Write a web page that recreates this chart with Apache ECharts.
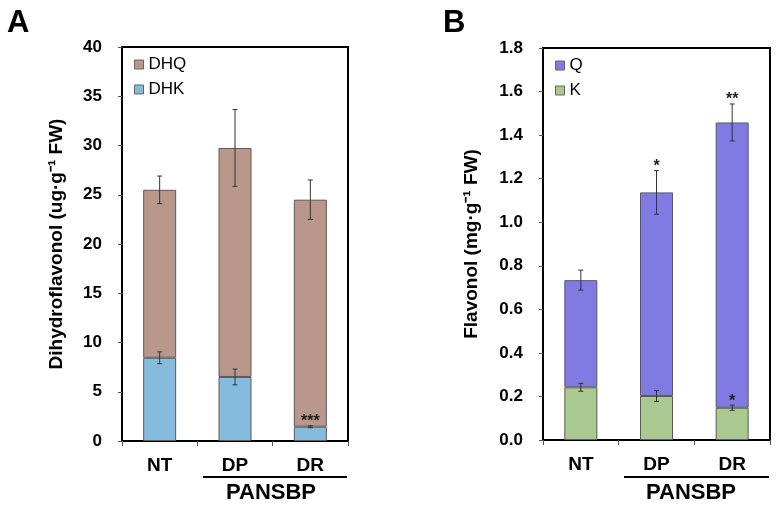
<!DOCTYPE html>
<html>
<head>
<meta charset="utf-8">
<script src="https://cdn.jsdelivr.net/npm/echarts@6/dist/echarts.min.js"></script>
<style>html,body{margin:0;padding:0;background:#fff}#c{width:778px;height:511px}</style>
</head>
<body>
<div id="c"></div>
<script>
const categories = ['NT', 'DP', 'DR'];
// Panel A (ug/g FW)
const dhk = [8.45, 6.5, 1.45];
const dhkErr = [0.6, 0.8, 0.1];
const dhq = [17.05, 23.25, 23.05];
const totalErrA = [1.4, 3.9, 2.0];
const sigA = ['', '', '***'];      // on DHK
const sigAtop = ['', '', ''];      // on total
// Panel B (mg/g FW)
const kVals = [0.242, 0.202, 0.148];
const kErr = [0.018, 0.025, 0.012];
const qVals = [0.492, 0.935, 1.31];
const totalErrB = [0.046, 0.1, 0.085];
const sigK = ['', '', '*'];
const sigBtop = ['', '*', '**'];
const yTicksA = {min: 0, max: 40, interval: 5};
const yTicksB = {min: 0, max: 1.8, interval: 0.2};

const FONT = '"Liberation Sans", Arial, sans-serif';
const C_DHQ = '#B9978A', C_DHK = '#85BCDD', C_Q = '#807AE2', C_K = '#AAC990';

function errData(base, err) {
  return categories.map((c, i) => [i, base[i] + err[i], base[i] - err[i]]);
}
function sum(a, b) { return a.map((v, i) => v + b[i]); }

function errSeries(xi, data) {
  return {
    type: 'custom', xAxisIndex: xi, yAxisIndex: xi, z: 10, silent: true,
    data: data,
    renderItem: function (params, api) {
      const x = api.coord([api.value(0), api.value(1)])[0];
      const yt = api.coord([api.value(0), api.value(1)])[1];
      const yb = api.coord([api.value(0), api.value(2)])[1];
      const s = {stroke: '#333', lineWidth: 1};
      return {type: 'group', children: [
        {type: 'line', shape: {x1: x, y1: yt, x2: x, y2: yb}, style: s},
        {type: 'line', shape: {x1: x - 2.5, y1: yt, x2: x + 2.5, y2: yt}, style: s},
        {type: 'line', shape: {x1: x - 2.5, y1: yb, x2: x + 2.5, y2: yb}, style: s}
      ]};
    }
  };
}
function sigSeries(xi, tops, labels) {
  return {
    type: 'custom', xAxisIndex: xi, yAxisIndex: xi, z: 11, silent: true,
    data: categories.map((c, i) => [i, tops[i], labels[i]]),
    renderItem: function (params, api) {
      const i = params.dataIndex;
      const p = api.coord([api.value(0), api.value(1)]);
      return {type: 'text', style: {text: labels[i], x: p[0], y: p[1] + 4,
        textAlign: 'center', textVerticalAlign: 'bottom',
        font: 'bold 16px ' + FONT, fill: '#222'}};
    }
  };
}

const totA = sum(dhk, dhq), totB = sum(kVals, qVals);

const axisCommonX = (gi) => ({
  type: 'category', gridIndex: gi, data: categories,
  axisLine: {lineStyle: {color: '#000', width: 2}},
  axisTick: {show: true, length: 5, lineStyle: {color: '#555', width: 1}},
  axisLabel: {color: '#000', fontFamily: FONT, fontWeight: 'bold', fontSize: 19, margin: 15}
});
const axisCommonY = (gi, t, name, gap) => ({
  type: 'value', gridIndex: gi, min: t.min, max: t.max, interval: t.interval,
  name: name, nameLocation: 'middle', nameGap: gap, nameRotate: 90,
  nameTextStyle: {color: '#000', fontFamily: FONT, fontWeight: 'bold', fontSize: 19},
  splitLine: {show: false},
  axisLine: {show: true, lineStyle: {color: '#000', width: 2}},
  axisTick: {show: true, length: 4, lineStyle: {color: '#555', width: 1}},
  axisLabel: {color: '#000', fontFamily: FONT, fontWeight: 'bold', fontSize: 17, margin: 20,
    formatter: t.interval < 1 ? (v => v.toFixed(1)) : (v => String(v))}
});

const barStyle = (c) => ({color: c, borderColor: '#5a5a5a', borderWidth: 1});

const option = {
  animation: false,
  textStyle: {fontFamily: FONT},
  grid: [
    {left: 122, top: 47, width: 226, height: 394, show: true, borderColor: '#000', borderWidth: 2, backgroundColor: 'transparent'},
    {left: 543, top: 48, width: 227, height: 392, show: true, borderColor: '#000', borderWidth: 2, backgroundColor: 'transparent'}
  ],
  xAxis: [axisCommonX(0), axisCommonX(1)],
  yAxis: [
    axisCommonY(0, yTicksA, 'Dihydroflavonol (ug·g⁻¹ FW)', 56),
    axisCommonY(1, yTicksB, 'Flavonol (mg·g⁻¹ FW)', 62)
  ],
  legend: [
    {data: ['DHQ', 'DHK'], orient: 'vertical', left: 129, top: 51, itemWidth: 9, itemHeight: 9, itemGap: 8, icon: 'rect',
     textStyle: {color: '#000', fontFamily: FONT, fontSize: 17}, itemStyle: {borderColor: '#666', borderWidth: 1}},
    {data: ['Q', 'K'], orient: 'vertical', left: 550, top: 52, itemWidth: 9, itemHeight: 9, itemGap: 8, icon: 'rect',
     textStyle: {color: '#000', fontFamily: FONT, fontSize: 17}, itemStyle: {borderColor: '#666', borderWidth: 1}}
  ],
  series: [
    {name: 'DHK', type: 'bar', stack: 'a', xAxisIndex: 0, yAxisIndex: 0, barWidth: 33, data: dhk, itemStyle: barStyle(C_DHK)},
    {name: 'DHQ', type: 'bar', stack: 'a', xAxisIndex: 0, yAxisIndex: 0, barWidth: 33, data: dhq, itemStyle: barStyle(C_DHQ)},
    {name: 'K', type: 'bar', stack: 'b', xAxisIndex: 1, yAxisIndex: 1, barWidth: 33, data: kVals, itemStyle: barStyle(C_K)},
    {name: 'Q', type: 'bar', stack: 'b', xAxisIndex: 1, yAxisIndex: 1, barWidth: 33, data: qVals, itemStyle: barStyle(C_Q)},
    errSeries(0, errData(dhk, dhkErr)),
    errSeries(0, errData(totA, totalErrA)),
    errSeries(1, errData(kVals, kErr)),
    errSeries(1, errData(totB, totalErrB)),
    sigSeries(0, dhk.map((v, i) => v + dhkErr[i]), sigA),
    sigSeries(0, totA.map((v, i) => v + totalErrA[i]), sigAtop),
    sigSeries(1, kVals.map((v, i) => v + kErr[i]), sigK),
    sigSeries(1, totB.map((v, i) => v + totalErrB[i]), sigBtop)
  ],
  graphic: [
    {type: 'text', left: 7, top: 8, style: {text: 'A', font: 'bold 31px ' + FONT, fill: '#000'}},
    {type: 'text', left: 443, top: 8, style: {text: 'B', font: 'bold 31px ' + FONT, fill: '#000'}},
    {type: 'line', shape: {x1: 203, y1: 477, x2: 347, y2: 477}, style: {stroke: '#000', lineWidth: 2}},
    {type: 'line', shape: {x1: 624, y1: 477, x2: 769, y2: 477}, style: {stroke: '#000', lineWidth: 2}},
    {type: 'text', x: 271, y: 493, style: {text: 'PANSBP', font: 'bold 22px ' + FONT, fill: '#000', textAlign: 'center', textVerticalAlign: 'middle'}},
    {type: 'text', x: 691, y: 493, style: {text: 'PANSBP', font: 'bold 22px ' + FONT, fill: '#000', textAlign: 'center', textVerticalAlign: 'middle'}}
  ]
};
const chart = echarts.init(document.getElementById('c'), null, {renderer: 'canvas'});
chart.setOption(option);
</script>
</body>
</html>
